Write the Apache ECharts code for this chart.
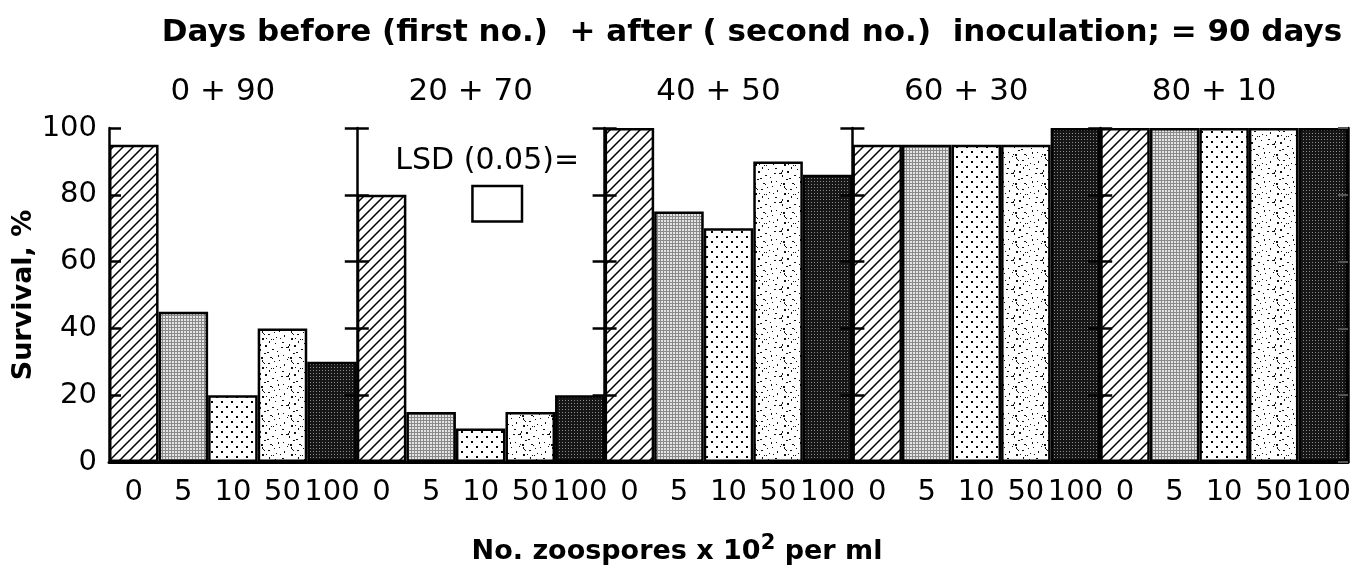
<!DOCTYPE html>
<html>
<head>
<meta charset="utf-8">
<script src="https://cdn.jsdelivr.net/npm/echarts@6/dist/echarts.min.js"></script>
<style>
  html, body { margin: 0; padding: 0; background: #fff; }
  #main { width: 1360px; height: 571px; }
</style>
</head>
<body>
<div id="main"></div>
<script>
// data
const groupNames = ['0 + 90', '20 + 70', '40 + 50', '60 + 30', '80 + 10']
const doses = ['0', '5', '10', '50', '100']
const survival0 = [95, 45, 20, 40, 30]
const survival20 = [80, 15, 10, 15, 20]
const survival40 = [100, 75, 70, 90, 86]
const survival60 = [95, 95, 95, 95, 100]
const survival80 = [100, 100, 100, 100, 100]
const lsdLow = 72
const lsdHigh = 82.6

const groups = [survival0, survival20, survival40, survival60, survival80]
const FONT = 'DejaVu Sans'

// fill patterns, one per dose
function makePattern(kind) {
  const c = document.createElement('canvas')
  const ctx = c.getContext('2d')
  if (kind === 'hatch') {
    c.width = 10; c.height = 10
    ctx.fillStyle = '#fff'; ctx.fillRect(0, 0, 10, 10)
    ctx.strokeStyle = '#000'; ctx.lineWidth = 1.5
    ctx.beginPath()
    ctx.moveTo(-2, 12); ctx.lineTo(12, -2)
    ctx.moveTo(-2, 2); ctx.lineTo(2, -2)
    ctx.moveTo(8, 12); ctx.lineTo(12, 8)
    ctx.stroke()
  } else if (kind === 'gray') {
    c.width = 3; c.height = 3
    ctx.fillStyle = '#e4e4e4'; ctx.fillRect(0, 0, 3, 3)
    ctx.fillStyle = '#8a8a8a'
    ctx.fillRect(0, 0, 3, 1); ctx.fillRect(0, 0, 1, 3)
  } else if (kind === 'dots') {
    c.width = 10; c.height = 10
    ctx.fillStyle = '#fff'; ctx.fillRect(0, 0, 10, 10)
    ctx.fillStyle = '#000'
    ctx.fillRect(1, 1, 2, 2); ctx.fillRect(6, 6, 2, 2)
  } else if (kind === 'speckle') {
    c.width = 29; c.height = 29
    ctx.fillStyle = '#fff'; ctx.fillRect(0, 0, 29, 29)
    ctx.fillStyle = '#111'
    let s = 7
    for (let k = 0; k < 34; k++) {
      s = (s * 73 + 41) % 841
      const px = s % 29, py = Math.floor(s / 29)
      ctx.fillRect(px, py, k % 3 === 0 ? 2 : 1, k % 4 === 0 ? 2 : 1)
    }
  } else {
    c.width = 3; c.height = 3
    ctx.fillStyle = '#161616'; ctx.fillRect(0, 0, 3, 3)
    ctx.fillStyle = '#8c8c8c'; ctx.fillRect(1, 1, 1, 1)
  }
  return { image: c, repeat: 'repeat' }
}
const fills = ['hatch', 'gray', 'dots', 'speckle', 'dark'].map(makePattern)

const gridLeft = 109
const gridTop = 128
const gridH = 334
const groupW = 247.8

let option = {
  animation: false,
  backgroundColor: '#fff',
  grid: groups.map((g, i) => ({ left: gridLeft + i * groupW, top: gridTop, width: groupW, height: gridH })),
  xAxis: groups.map((g, i) => ({
    type: 'category',
    gridIndex: i,
    data: doses,
    axisLine: { lineStyle: { color: '#000', width: 3 } },
    axisTick: { show: false },
    axisLabel: { interval: 0, color: '#000', fontSize: 29, fontFamily: FONT, margin: 16 }
  })),
  yAxis: [],
  series: [],
  graphic: []
}

groups.forEach((g, i) => {
  // axis line of each panel, ticks to the inside
  option.yAxis.push({
    type: 'value', gridIndex: i, position: 'left', min: 0, max: 100, interval: 20, z: 5,
    axisLine: { show: true, lineStyle: { color: '#000', width: 2.5 } },
    axisTick: { show: true, inside: true, length: 12, lineStyle: { color: '#000', width: 2.5 } },
    axisLabel: { show: i === 0, color: '#000', fontSize: 29, fontFamily: FONT, margin: 12 },
    splitLine: { show: false },
    name: i === 0 ? 'Survival, %' : '',
    nameLocation: 'middle', nameGap: 68,
    nameTextStyle: { color: '#000', fontSize: 27, fontWeight: 'bold', fontFamily: FONT }
  })
  // outer half of the crossing ticks on the inner panels
  option.yAxis.push({
    type: 'value', gridIndex: i, position: 'left', min: 0, max: 100, interval: 20, z: 5,
    axisLine: { show: false },
    axisTick: { show: i > 0, length: 12, lineStyle: { color: '#000', width: 2.5 } },
    axisLabel: { show: false },
    splitLine: { show: false }
  })
  option.series.push({
    type: 'bar',
    xAxisIndex: i,
    yAxisIndex: i * 2,
    barCategoryGap: 0,
    data: g.map((v, j) => ({
      value: v,
      itemStyle: { color: fills[j], borderColor: '#000', borderWidth: 2.5 }
    }))
  })
})

// right edge ticks
option.yAxis.push({
  type: 'value', gridIndex: 4, min: 0, max: 100, interval: 20, z: 5, position: 'right',
  axisLine: { show: true, lineStyle: { color: '#000', width: 2.5 } },
  axisTick: { show: true, inside: true, length: 10, lineStyle: { color: '#555', width: 2 } },
  axisLabel: { show: false },
  splitLine: { show: false }
})

// LSD box in the second panel
option.series.push({
  type: 'custom',
  xAxisIndex: 1,
  yAxisIndex: 2,
  z: 6,
  data: [[2, lsdLow, lsdHigh]],
  renderItem: (params, api) => {
    const bw = api.size([1, 0])[0]
    const lo = api.coord([api.value(0), api.value(1)])
    const hi = api.coord([api.value(0), api.value(2)])
    const cx = lo[0] + bw / 3
    return {
      type: 'group',
      children: [
        { type: 'rect', shape: { x: cx - bw / 2, y: hi[1], width: bw, height: lo[1] - hi[1] },
          style: { fill: '#fff', stroke: '#000', lineWidth: 2.5 } },
        { type: 'text', style: { text: 'LSD (0.05)=', x: cx - 10, y: hi[1] - 25, align: 'center', verticalAlign: 'middle',
          fill: '#000', font: '30px "' + FONT + '"' } }
      ]
    }
  }
})

option.graphic.push({
  type: 'text', x: 752, y: 33,
  style: { text: 'Days before (first no.)  + after ( second no.)  inoculation; = 90 days', align: 'center', verticalAlign: 'middle',
    fill: '#000', font: 'bold 31px "' + FONT + '"' }
})
groupNames.forEach((name, i) => {
  option.graphic.push({
    type: 'text', x: gridLeft + (i + 0.5) * groupW - 10, y: 92,
    style: { text: name, align: 'center', verticalAlign: 'middle', fill: '#000', font: '31px "' + FONT + '"' }
  })
})
option.graphic.push({
  type: 'text', x: 677, y: 552,
  style: {
    text: 'No. zoospores x 10{sup|2} per ml', align: 'center', verticalAlign: 'middle',
    fill: '#000', font: 'bold 27px "' + FONT + '"',
    rich: { sup: { fontSize: 21, fontWeight: 'bold', fontFamily: FONT, fill: '#000', padding: [0, 0, 16, 0] } }
  }
})

let myChart = echarts.init(document.getElementById('main'))
myChart.setOption(option)
</script>
</body>
</html>
